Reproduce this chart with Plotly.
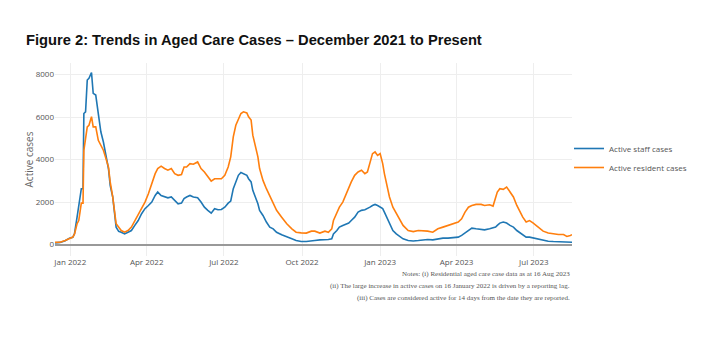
import plotly.graph_objects as go

# Daily snapshot dates (sampled) and active case counts
dates = [
    "2021-12-14", "2021-12-20", "2021-12-26", "2021-12-31", "2022-01-04", "2022-01-06",
    "2022-01-09", "2022-01-11", "2022-01-14", "2022-01-16", "2022-01-17", "2022-01-19",
    "2022-01-21", "2022-01-23", "2022-01-26", "2022-01-28", "2022-01-31", "2022-02-03",
    "2022-02-06", "2022-02-09", "2022-02-12", "2022-02-15", "2022-02-17", "2022-02-20",
    "2022-02-24", "2022-02-27", "2022-03-02", "2022-03-06", "2022-03-10", "2022-03-14",
    "2022-03-18", "2022-03-22", "2022-03-26", "2022-03-30", "2022-04-03", "2022-04-07",
    "2022-04-11", "2022-04-14", "2022-04-18", "2022-04-22", "2022-04-26", "2022-04-30",
    "2022-05-04", "2022-05-08", "2022-05-12", "2022-05-15", "2022-05-18", "2022-05-22",
    "2022-05-26", "2022-05-31", "2022-06-04", "2022-06-08", "2022-06-12", "2022-06-16",
    "2022-06-20", "2022-06-24", "2022-06-28", "2022-07-02", "2022-07-06", "2022-07-09",
    "2022-07-12", "2022-07-15", "2022-07-18", "2022-07-21", "2022-07-24", "2022-07-28",
    "2022-07-30", "2022-08-02", "2022-08-04", "2022-08-07", "2022-08-10", "2022-08-12",
    "2022-08-16", "2022-08-20", "2022-08-24", "2022-08-28", "2022-09-01", "2022-09-07",
    "2022-09-13", "2022-09-19", "2022-09-24", "2022-09-30", "2022-10-06", "2022-10-12",
    "2022-10-16", "2022-10-22", "2022-10-28", "2022-11-01", "2022-11-05", "2022-11-07",
    "2022-11-11", "2022-11-14", "2022-11-18", "2022-11-22", "2022-11-25", "2022-11-28",
    "2022-12-02", "2022-12-06", "2022-12-10", "2022-12-14", "2022-12-17", "2022-12-20",
    "2022-12-23", "2022-12-26", "2022-12-29", "2023-01-01", "2023-01-04", "2023-01-06",
    "2023-01-09", "2023-01-12", "2023-01-16", "2023-01-20", "2023-01-24", "2023-01-28",
    "2023-02-03", "2023-02-09", "2023-02-15", "2023-02-21", "2023-02-26", "2023-03-04",
    "2023-03-10", "2023-03-16", "2023-03-22", "2023-03-28", "2023-04-03", "2023-04-07",
    "2023-04-11", "2023-04-15", "2023-04-19", "2023-04-24", "2023-04-30", "2023-05-04",
    "2023-05-10", "2023-05-14", "2023-05-17", "2023-05-19", "2023-05-22", "2023-05-26",
    "2023-05-30", "2023-06-03", "2023-06-07", "2023-06-11", "2023-06-15", "2023-06-18",
    "2023-06-22", "2023-06-26", "2023-06-30", "2023-07-04", "2023-07-08", "2023-07-12",
    "2023-07-18", "2023-07-24", "2023-07-30", "2023-08-05", "2023-08-09", "2023-08-13",
    "2023-08-15",
]

staff_cases = [
    80, 100, 180, 300, 340, 520,
    1290, 1760, 2630, 2630, 6170, 6250,
    7750, 7830, 8100, 7120, 7040, 6170,
    5310, 4830, 4130, 3570, 2790, 2240,
    820, 620, 580, 500, 580, 660,
    900, 1130, 1450, 1690, 1840, 2000,
    2310, 2470, 2310, 2240, 2200, 2240,
    2080, 1920, 1950, 2160, 2240, 2310,
    2240, 2200, 2000, 1760, 1610, 1480,
    1690, 1640, 1650, 1760, 1950, 2050,
    2630, 2950, 3260, 3390, 3340, 3260,
    3100, 2950, 2550, 2240, 1920, 1610,
    1370, 1060, 820, 740, 580, 460,
    350, 270, 190, 140, 140, 190,
    190, 220, 220, 240, 270, 500,
    660, 820, 900, 980, 1010, 1130,
    1290, 1530, 1610, 1640, 1690, 1760,
    1840, 1890, 1840, 1760, 1690, 1530,
    1290, 980, 660, 500, 380, 270,
    190, 170, 190, 220, 240, 220,
    270, 300, 300, 315, 350, 430,
    540, 660, 770, 740, 690, 690,
    740, 770, 820, 900, 1010, 1060,
    1010, 900, 820, 660, 540, 430,
    350, 350, 315, 270, 220, 190,
    155, 140, 140, 125, 110, 110,
    110,
]

resident_cases = [
    100, 110, 190, 300, 350, 500,
    980, 1130, 1950, 1950, 4440, 4990,
    5540, 5620, 6020, 5540, 5540, 4910,
    4680, 4440, 4050, 3650, 2950, 2240,
    980, 820, 660, 580, 660, 820,
    1130, 1450, 1690, 2000, 2390, 2870,
    3340, 3580, 3690, 3580, 3500, 3580,
    3340, 3260, 3300, 3650, 3650, 3810,
    3780, 3890, 3580, 3420, 3180, 2990,
    3100, 3090, 3100, 3260, 3650, 4130,
    5070, 5620, 5940, 6170, 6250, 6200,
    6020, 5860, 5150, 4600, 4130, 3580,
    3020, 2630, 2310, 1920, 1610, 1290,
    980, 740, 580, 550, 540, 630,
    630, 540, 630, 580, 740, 1130,
    1450, 1760, 2000, 2390, 2630, 2950,
    3260, 3420, 3500, 3340, 3420, 3890,
    4280, 4360, 4200, 4280, 3810, 3340,
    2710, 2240, 1760, 1450, 1160, 900,
    660, 610, 660, 660, 630, 580,
    740, 820, 900, 950, 1060, 1210,
    1530, 1760, 1840, 1890, 1890, 1840,
    1870, 1810, 2240, 2470, 2630, 2600,
    2710, 2470, 2240, 1840, 1530, 1290,
    1060, 1130, 1020, 900, 740, 630,
    540, 500, 470, 470, 380, 430,
    460,
]

y_ticks = [0, 2000, 4000, 6000, 8000]

title_text = "Figure 2: Trends in Aged Care Cases \u2013 December 2021 to Present"
notes_lines = [
    "Notes: (i) Residential aged care case data as at 16 Aug 2023",
    "(ii) The large increase in active cases on 16 January 2022 is driven by a reporting lag.",
    "(iii) Cases are considered active for 14 days from the date they are reported.",
]

fig = go.Figure()
fig.add_trace(go.Scatter(
    x=dates, y=staff_cases, mode="lines", name="Active staff cases",
    line=dict(color="#1f77b4", width=1.6),
))
fig.add_trace(go.Scatter(
    x=dates, y=resident_cases, mode="lines", name="Active resident cases",
    line=dict(color="#ff7f0e", width=1.6),
))

fig.update_layout(
    width=702, height=342,
    margin=dict(l=55, r=130, t=63, b=86, autoexpand=False),
    paper_bgcolor="white", plot_bgcolor="white",
    font=dict(family="Open Sans, Arial, sans-serif", size=8, color="#555"),
    title=dict(
        text="<b>" + title_text + "</b>",
        x=26 / 702, xanchor="left", xref="container",
        y=1 - 40 / 342, yanchor="middle",
        font=dict(family="Liberation Sans, Arial, sans-serif", size=14.7, color="#111"),
    ),
    legend=dict(
        xref="container", yref="container",
        x=569 / 702, y=1 - 158 / 342, xanchor="left", yanchor="middle",
        font=dict(size=8, color="#555"),
        bgcolor="rgba(0,0,0,0)",
    ),
    xaxis=dict(
        range=[dates[0], dates[-1]],
        tickformat="%b %Y", dtick="M3", tick0="2022-01-01",
        showgrid=True, gridcolor="#eeeeee", gridwidth=1,
        zeroline=False, showline=False, ticks="",
        tickfont=dict(size=8, color="#555"),
    ),
    yaxis=dict(
        range=[-540, 8550],
        tickvals=y_ticks,
        title=dict(text="Active cases", font=dict(size=10, color="#666"), standoff=0),
        showgrid=True, gridcolor="#eeeeee", gridwidth=1,
        zeroline=True, zerolinecolor="#999999", zerolinewidth=1.5,
        showline=False, ticks="",
        tickfont=dict(size=8, color="#555"),
    ),
)

for i, line in enumerate(notes_lines):
    fig.add_annotation(
        text=line, xref="paper", yref="paper", x=1, y=0,
        xanchor="right", yanchor="middle", showarrow=False,
        yshift=-(18 + 12 * i),
        font=dict(family="Liberation Serif, Times New Roman, serif", size=7, color="#555"),
    )

fig.write_html("out.html")
